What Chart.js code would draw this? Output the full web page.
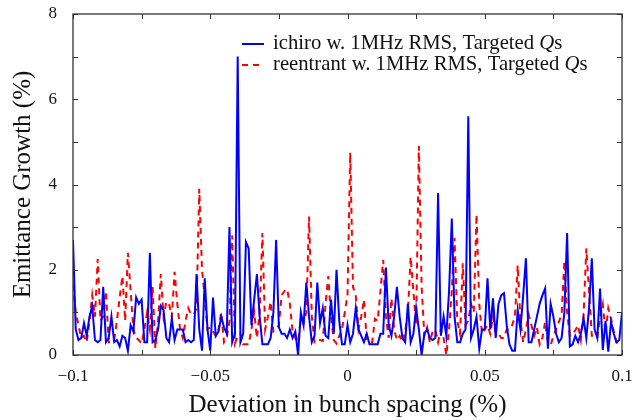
<!DOCTYPE html>
<html>
<head>
<meta charset="utf-8">
<script src="https://cdn.jsdelivr.net/npm/chart.js@4.4.1/dist/chart.umd.min.js"></script>
<style>
  html, body { margin: 0; padding: 0; background: #fff; }
  #wrap { width: 638px; height: 420px; }
</style>
</head>
<body>
<div id="wrap"><canvas id="grafico"></canvas></div>
<script>
// grid of bunch spacing deviations (%), -0.1 .. 0.1 step 0.001
const deviation = Array.from({ length: 201 }, (_, i) => Math.round((-0.1 + i * 0.001) * 1000) / 1000);

// emittance growth (%)
const ichiro = [
  2.7, 0.6, 0.35, 0.4, 0.75, 0.45, 0.9, 1.15, 0.35, 0.3,
  0.35, 1.6, 0.3, 0.4, 0.9, 0.3, 0.35, 0.2, 0.45, 0.4,
  0.1, 0.7, 0.55, 1.35, 1.2, 1.3, 0.3, 0.3, 2.4, 0.3,
  0.35, 0.6, 1.15, 1.05, 0.4, 0.3, 0.85, 0.35, 0.6, 0.6,
  0.6, 0.3, 0.35, 0.3, 0.35, 1.9, 0.6, 0.1, 1.8, 0.6,
  0.1, 1.35, 0.45, 0.55, 0.9, 0.65, 0.5, 3.0, 0.3, 0.5,
  7.0, 0.3, 0.5, 2.65, 2.5, 0.7, 1.3, 1.9, 0.9, 0.25,
  0.25, 0.25, 0.4, 1.0, 2.7, 0.65, 0.5, 0.5, 0.4, 0.6,
  0.4, 0.55, 0.0, 1.0, 0.7, 1.7, 0.9, 0.3, 0.45, 1.7,
  0.75, 1.1, 0.45, 0.4, 1.3, 0.5, 2.0, 0.8, 0.25, 0.25,
  0.7, 0.3, 0.5, 1.1, 0.6, 0.45, 0.3, 0.5, 0.25, 0.25,
  0.25, 0.25, 0.5, 0.5, 2.05, 0.7, 0.45, 0.9, 1.6, 0.9,
  0.4, 0.3, 1.2, 0.3, 0.5, 1.1, 0.6, 0.0, 0.5, 0.6,
  0.4, 0.35, 0.4, 3.8, 0.45, 0.9, 0.45, 1.5, 3.2, 0.9,
  0.3, 0.3, 0.5, 0.6, 5.6, 0.4, 0.6, 0.9, 0.15, 0.6,
  0.6, 1.8, 0.6, 1.33, 0.4, 1.2, 1.4, 1.45, 0.7, 0.25,
  0.1, 0.1, 1.05, 0.6, 1.4, 2.27, 0.3, 0.3, 0.6, 0.9,
  1.2, 1.4, 1.56, 0.15, 1.2, 0.9, 0.5, 0.3, 0.4, 1.0,
  2.86, 0.2, 0.25, 0.45, 0.3, 0.5, 0.86, 0.4, 1.1, 2.27,
  0.6, 0.4, 1.56, 0.12, 0.8, 0.08, 0.78, 0.5, 0.3, 0.35,
  1.0
];

const reentrant = [
  1.65, 1.0, 0.7, 0.4, 0.45, 0.3, 0.8, 1.4, 0.9, 2.25,
  0.8, 0.9, 1.5, 0.3, 0.3, 0.35, 0.8, 1.35, 1.85, 0.8,
  2.4, 1.5, 0.6, 0.4, 0.35, 0.27, 0.6, 1.0, 0.6, 1.6,
  0.15, 0.8, 1.9, 0.9, 1.25, 1.2, 0.9, 1.95, 1.2, 0.6,
  0.4, 0.8, 1.1, 0.95, 0.95, 1.1, 3.9, 2.0, 1.35, 0.6,
  0.65, 0.55, 0.45, 0.6, 1.0, 0.3, 0.4, 0.8, 2.8, 0.27,
  0.45, 0.5, 0.25, 0.25, 0.25, 0.6, 1.0, 0.4, 1.0, 2.86,
  0.6, 0.9, 1.25, 0.55, 0.6, 0.7, 1.4, 1.5, 1.55, 1.2,
  0.55, 0.4, 0.3, 0.85, 0.75, 1.0, 3.25, 0.9, 0.3, 0.35,
  0.35, 0.33, 1.2, 1.85, 0.9, 0.35, 0.27, 0.45, 0.6, 1.0,
  1.4, 4.75, 1.6, 1.4, 0.6, 0.9, 1.3, 0.35, 0.3, 0.3,
  0.85, 0.8, 1.5, 2.23, 0.9, 0.4, 1.33, 0.6, 0.35, 0.45,
  0.3, 0.55, 1.0, 2.3, 1.5, 0.7, 4.9, 1.6, 0.45, 0.65,
  0.3, 0.55, 0.6, 0.3, 0.6, 0.4, 0.0, 0.6, 1.5, 2.75,
  0.8, 0.5, 2.15, 0.7, 0.8, 1.2, 1.0, 3.3, 1.2, 0.5,
  0.6, 0.7, 0.5, 0.9, 0.5, 0.5, 0.4, 0.4, 0.6, 0.6,
  0.7, 0.9, 2.1, 0.8, 0.3, 0.6, 0.95, 0.7, 0.45, 0.65,
  0.25, 0.4, 0.78, 0.3, 0.23, 0.45, 0.6, 0.78, 0.94, 2.2,
  1.0, 0.45, 0.5, 0.58, 0.7, 0.35, 0.94, 2.5, 1.5, 0.45,
  0.45, 0.4, 0.9, 1.2, 0.5, 1.1, 0.86, 0.55, 0.3, 0.27,
  0.3
];

const xLabels = [-0.1, -0.05, 0, 0.05, 0.1];
const yLabels = [0, 2, 4, 6, 8];

const FONTE = "'Liberation Serif', 'DejaVu Serif', serif";

function fmt(v) {
  const s = String(Math.round(v * 1000) / 1000);
  return s.replace("-", "\u2212");
}

// ticks para dentro nos quatro lados + moldura
const moldura = {
  id: "moldura",
  afterDatasetsDraw(chart) {
    const { ctx, chartArea: a, scales } = chart;
    ctx.save();
    ctx.strokeStyle = "#333";
    ctx.lineWidth = 1;
    ctx.beginPath();
    scales.x.ticks.forEach((t) => {
      const px = Math.round(scales.x.getPixelForValue(t.value)) + 0.5;
      ctx.moveTo(px, a.bottom); ctx.lineTo(px, a.bottom - 5);
      ctx.moveTo(px, a.top); ctx.lineTo(px, a.top + 5);
    });
    scales.y.ticks.forEach((t) => {
      const py = Math.round(scales.y.getPixelForValue(t.value)) + 0.5;
      ctx.moveTo(a.left, py); ctx.lineTo(a.left + 5, py);
      ctx.moveTo(a.right, py); ctx.lineTo(a.right - 5, py);
    });
    ctx.stroke();
    ctx.lineWidth = 1.3;
    ctx.strokeRect(a.left, a.top, a.right - a.left, a.bottom - a.top);
    ctx.restore();
  }
};

// legenda com o Q em itálico
const legenda = {
  id: "legenda",
  afterDraw(chart) {
    const { ctx } = chart;
    const linhas = [
      { y: 44, texto: "ichiro w. 1MHz RMS, Targeted " },
      { y: 65, texto: "reentrant w. 1MHz RMS, Targeted " }
    ];
    const tam = "20.7px ";
    ctx.save();
    chart.data.datasets.forEach((ds, i) => {
      const l = linhas[i];
      ctx.strokeStyle = ds.borderColor;
      ctx.lineWidth = ds.borderWidth;
      ctx.setLineDash(ds.borderDash || []);
      ctx.beginPath();
      ctx.moveTo(242, l.y);
      ctx.lineTo(264, l.y);
      ctx.stroke();
      ctx.setLineDash([]);
      ctx.fillStyle = "#111";
      ctx.textBaseline = "middle";
      let x = 273;
      ctx.font = tam + FONTE;
      ctx.fillText(l.texto, x, l.y);
      x += ctx.measureText(l.texto).width;
      ctx.font = "italic " + tam + FONTE;
      ctx.fillText("Q", x, l.y);
      x += ctx.measureText("Q").width;
      ctx.font = tam + FONTE;
      ctx.fillText("s", x, l.y);
    });
    ctx.restore();
  }
};

new Chart(document.getElementById("grafico"), {
  type: "line",
  data: {
    datasets: [
      {
        label: "ichiro w. 1MHz RMS, Targeted Qs",
        data: deviation.map((x, i) => ({ x, y: ichiro[i] })),
        borderColor: "#0000ff",
        borderWidth: 2,
        pointRadius: 0,
        tension: 0
      },
      {
        label: "reentrant w. 1MHz RMS, Targeted Qs",
        data: deviation.map((x, i) => ({ x, y: reentrant[i] })),
        borderColor: "#ff0000",
        borderWidth: 2,
        borderDash: [6, 5],
        pointRadius: 0,
        tension: 0
      }
    ]
  },
  options: {
    responsive: true,
    maintainAspectRatio: false,
    animation: false,
    devicePixelRatio: 1,
    layout: { padding: { top: 14, right: 16, left: 0, bottom: 0 } },
    plugins: {
      legend: { display: false },
      tooltip: { enabled: false }
    },
    scales: {
      x: {
        type: "linear",
        min: -0.1,
        max: 0.1,
        grid: { display: false, drawTicks: false },
        border: { display: false },
        ticks: {
          stepSize: 0.025,
          autoSkip: false,
          maxRotation: 0,
          padding: 11,
          color: "#111",
          font: { family: FONTE, size: 17 },
          callback: (v) => xLabels.some((l) => Math.abs(l - v) < 1e-9) ? fmt(v) : ""
        },
        title: {
          display: true,
          text: "Deviation in bunch spacing (%)",
          color: "#111",
          font: { family: FONTE, size: 25 },
          padding: { top: 0, bottom: 0 }
        },
        afterFit: (s) => { s.height = 65; s.paddingLeft = 0; s.paddingRight = 0; }
      },
      y: {
        min: 0,
        max: 8,
        grid: { display: false, drawTicks: false },
        border: { display: false },
        ticks: {
          stepSize: 1,
          autoSkip: false,
          padding: 16,
          color: "#111",
          font: { family: FONTE, size: 17 },
          callback: (v) => yLabels.includes(v) ? fmt(v) : ""
        },
        title: {
          display: true,
          text: "Emittance Growth (%)",
          color: "#111",
          font: { family: FONTE, size: 25 },
          padding: { top: 8, bottom: 0 }
        },
        afterFit: (s) => { s.width = 73; s.paddingTop = 0; s.paddingBottom = 0; }
      }
    }
  },
  plugins: [moldura, legenda]
});
</script>
</body>
</html>
